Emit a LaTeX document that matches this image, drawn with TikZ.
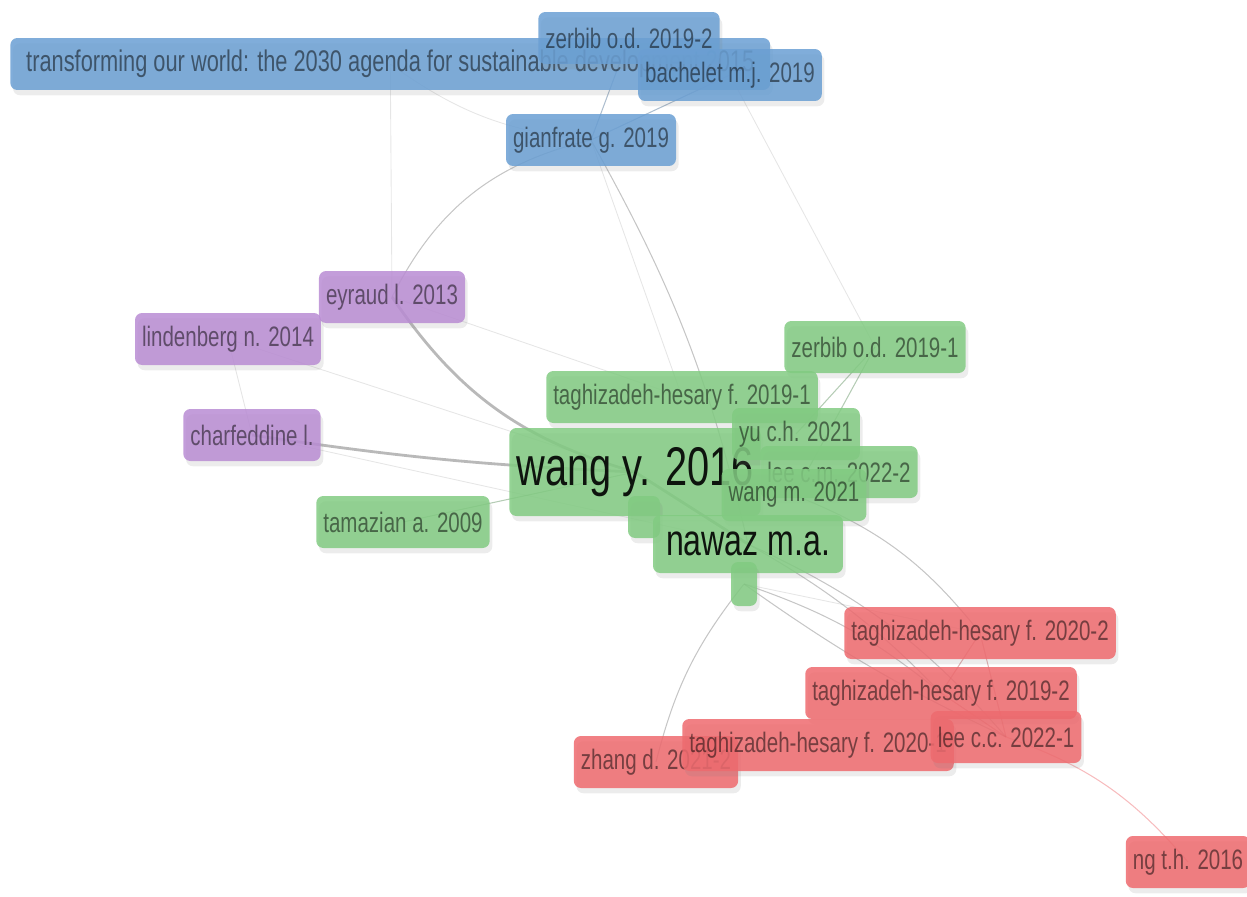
\documentclass[tikz,border=0pt]{standalone}
\usepackage{fontspec}
\setmainfont{Liberation Sans}[FakeStretch=0.73]
\usetikzlibrary{shadows, backgrounds}
\definecolor{vosblue}{HTML}{6A9FD3}
\definecolor{vosgreen}{HTML}{82CB82}
\definecolor{vospurple}{HTML}{B98CD3}
\definecolor{vosred}{HTML}{EE6A6E}
\tikzstyle{item} = [rectangle, rounded corners=4pt, minimum height=1.04cm, inner xsep=4pt, fill opacity=0.85, text opacity=0.5, text=black, font=\fontsize{16}{18}\selectfont, drop shadow={shadow xshift=1.5pt, shadow yshift=-3pt, opacity=0.15}]
\tikzstyle{bluebox} = [item, fill=vosblue]
\tikzstyle{greenbox} = [item, fill=vosgreen]
\tikzstyle{purplebox} = [item, fill=vospurple]
\tikzstyle{redbox} = [item, fill=vosred]
\tikzstyle{link} = [draw=gray, opacity=0.45, line width=0.6pt]
\tikzstyle{faint} = [draw=gray, opacity=0.2, line width=0.5pt]
\tikzstyle{heavy} = [draw=gray, opacity=0.55, line width=1.6pt]
\begin{document}
\begin{tikzpicture}[x=0.02cm, y=-0.02cm]
    \useasboundingbox (0,0) rectangle (1247,896);
    % blue cluster
    \node (trans) [bluebox, anchor=west, minimum width=15.2cm, font=\fontsize{17}{19}\selectfont] at (10,64) {transforming our world: the 2030 agenda for sustainable development 2015};
    \node (zerbibA) [bluebox] at (629,38) {zerbib o.d. 2019-2};
    \node (bachelet) [bluebox] at (730,75) {bachelet m.j. 2019};
    \node (gianfrate) [bluebox] at (591,140) {gianfrate g. 2019};
    % purple cluster
    \node (eyraud) [purplebox] at (392,297) {eyraud l. 2013};
    \node (lindenberg) [purplebox] at (228,339) {lindenberg n. 2014};
    \node (charfeddine) [purplebox] at (252,435) {charfeddine l.};
    % green cluster
    \node (tamazian) [greenbox] at (403,522) {tamazian a. 2009};
    \node (zerbibB) [greenbox] at (875,347) {zerbib o.d. 2019-1};
    \node (taghiG) [greenbox] at (682,397) {taghizadeh-hesary f. 2019-1};
    \node (wangy) [greenbox, minimum height=1.76cm, text opacity=0.9, font=\fontsize{31}{34}\selectfont] at (635,472) {wang y. 2016};
    \node (dotA) [greenbox, minimum width=0.64cm, minimum height=0.84cm] at (644,517) {};
    \node (yu) [greenbox] at (796,434) {yu c.h. 2021};
    \node (leecm) [greenbox] at (839,472) {lee c.m. 2022-2};
    \node (wangm) [greenbox] at (794,495) {wang m. 2021};
    \node (nawaz) [greenbox, minimum height=1.16cm, minimum width=3.8cm, text opacity=0.9, font=\fontsize{25}{28}\selectfont] at (748,544) {nawaz m.a.};
    \node (dotB) [greenbox, minimum width=0.52cm, minimum height=0.88cm] at (744,584) {};
    % red cluster
    \node (taghiR2) [redbox] at (980,633) {taghizadeh-hesary f. 2020-2};
    \node (taghiR3) [redbox] at (941,693) {taghizadeh-hesary f. 2019-2};
    \node (zhang) [redbox] at (656,762) {zhang d. 2021-2};
    \node (taghiR1) [redbox] at (818,745) {taghizadeh-hesary f. 2020-1};
    \node (leecc) [redbox] at (1006,737) {lee c.c. 2022-1};
    \node (ng) [redbox] at (1188,862) {ng t.h. 2016};

    \begin{pgfonlayer}{background}
    \draw [faint] (trans.center) to[bend right=15] (gianfrate.center);
    \draw [faint] (trans.center) -- (eyraud.center);
    \draw [link, draw=vosblue!70!black] (zerbibA.center) -- (gianfrate.center);
    \draw [link, draw=vosblue!70!black] (bachelet.center) -- (gianfrate.center);
    \draw [faint] (bachelet.center) -- (zerbibB.center);
    \draw [link] (gianfrate.center) to[bend right=25] (eyraud.center);
    \draw [link] (gianfrate.center) to[bend left=8] (nawaz.center);
    \draw [faint] (gianfrate.center) -- (taghiG.center);
    \draw [heavy] (eyraud.center) to[bend right=20] (wangy.center);
    \draw [faint] (eyraud.center) -- (taghiG.center);
    \draw [faint] (lindenberg.center) -- (wangy.center);
    \draw [faint] (lindenberg.center) -- (charfeddine.center);
    \draw [heavy] (charfeddine.center) to[bend right=3] (wangy.center);
    \draw [faint] (charfeddine.center) -- (nawaz.center);
    \draw [link, draw=vosgreen!70!black] (tamazian.center) -- (wangy.center);
    \draw [link, draw=vosgreen!70!black] (zerbibB.center) -- (yu.center);
    \draw [link, draw=vosgreen!70!black] (zerbibB.center) -- (wangm.center);
    \draw [heavy, draw=vosgreen!70!black] (wangy.center) -- (nawaz.center);
    \draw [link] (wangm.center) to[bend left=15] (taghiR2.center);
    \draw [link] (nawaz.center) to[bend left=12] (leecc.center);
    \draw [link] (nawaz.center) to[bend left=8] (taghiR3.center);
    \draw [link] (dotB.center) to[bend left=10] (taghiR3.center);
    \draw [faint] (dotB.center) -- (taghiR2.center);
    \draw [link] (dotB.center) to[bend right=5] (leecc.center);
    \draw [link] (zhang.center) to[bend left=12] (dotB.center);
    \draw [link, draw=vosred!80!black] (taghiR2.center) -- (taghiR3.center);
    \draw [link, draw=vosred!80!black] (taghiR2.center) -- (leecc.center);
    \draw [link, draw=vosred!80!black] (taghiR3.center) -- (leecc.center);
    \draw [link, draw=vosred] (leecc.center) to[bend left=15] (ng.center);
    \end{pgfonlayer}
\end{tikzpicture}
\end{document}
